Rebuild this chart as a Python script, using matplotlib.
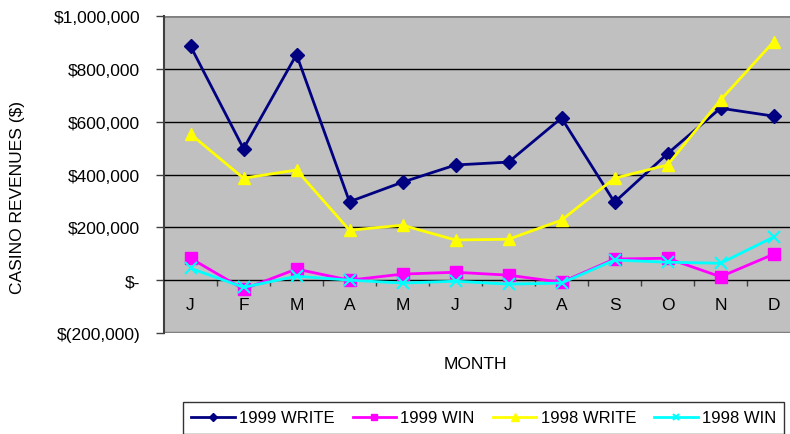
import matplotlib
matplotlib.use("Agg")
import matplotlib.pyplot as plt
from matplotlib.ticker import FixedLocator

plt.rcParams['font.family'] = ['Liberation Sans', 'DejaVu Sans']

months = ["J", "F", "M", "A", "M", "J", "J", "A", "S", "O", "N", "D"]
write_1999 = [886000, 498000, 854000, 297000, 371000, 436000, 447000, 614000, 295000, 479000, 651000, 621000]
win_1999 = [83000, -34000, 42000, 0, 23000, 30000, 19000, -8000, 80000, 83000, 13000, 98000]
write_1998 = [553000, 386000, 417000, 189000, 208000, 152000, 155000, 227000, 386000, 436000, 682000, 902000]
win_1998 = [45000, -27000, 15000, 0, -11000, -4000, -15000, -11000, 76000, 68000, 64000, 163000]
ytick_vals = [-200000, 0, 200000, 400000, 600000, 800000, 1000000]
ytick_labels = ["$(200,000)", "$-", "$200,000", "$400,000", "$600,000", "$800,000", "$1,000,000"]

W, H = 790, 435
fig = plt.figure(figsize=(W / 100, H / 100), dpi=100)
ax = fig.add_axes([164 / W, 1 - 334 / H, 636 / W, 317 / H])
ax.set_facecolor("#C0C0C0")

x = list(range(len(months)))
series = [
    (write_1999, "1999 WRITE", "#000080", "D", 7, "#000080"),
    (win_1999, "1999 WIN", "#FF00FF", "s", 8, "#FF00FF"),
    (write_1998, "1998 WRITE", "#FFFF00", "^", 9, "#FFFF00"),
    (win_1998, "1998 WIN", "#00FFFF", "x", 8, "#00FFFF"),
]
for vals, lab, col, mk, ms, mc in series:
    ax.plot(x, vals, color=col, lw=2, marker=mk, ms=ms, mfc=mc, mec=mc,
            mew=1.5 if mk == "x" else 1, label=lab, zorder=3, clip_on=False)

ax.set_xlim(-0.5, 11.5)
ax.set_ylim(-200000, 1000000)

for v in ytick_vals[2:-1]:
    ax.axhline(v, color="black", lw=1, zorder=1)
ax.axhline(1000000, color="#808080", lw=2, zorder=1)
ax.axhline(-200000, color="#808080", lw=2.5, zorder=1)

ax.set_yticks(ytick_vals)
ax.set_yticklabels(ytick_labels, fontsize=12.5)
ax.tick_params(axis="y", length=6, width=1, color="#404040", pad=11)

ax.spines["bottom"].set_position(("data", 0))
ax.spines["bottom"].set_color("black")
ax.spines["bottom"].set_linewidth(1)
ax.spines["top"].set_visible(False)
ax.spines["right"].set_visible(False)
ax.spines["left"].set_color("#404040")
ax.spines["left"].set_linewidth(1.5)

ax.set_xticks(x)
ax.set_xticklabels(months, fontsize=12.5)
ax.tick_params(axis="x", which="major", length=0, pad=12)
ax.xaxis.set_minor_locator(FixedLocator([i + 0.5 for i in range(11)]))
ax.tick_params(axis="x", which="minor", length=4.5, width=1, color="#404040", direction="out")

fig.text(18 / W, 1 - 198 / H, "CASINO REVENUES ($)", rotation=90, fontsize=12.5,
         ha="center", va="center")
fig.text(475 / W, 1 - 365 / H, "MONTH", fontsize=12.5, ha="center", va="center")

leg = fig.legend(loc="upper left", bbox_to_anchor=(183 / W, 1 - 403 / H), ncol=4,
                 fontsize=12, frameon=True, fancybox=False, handlelength=2.6,
                 handletextpad=0.25, columnspacing=1.1, borderpad=0.5,
                 borderaxespad=0, markerscale=0.6)
leg.get_frame().set_edgecolor("black")
leg.get_frame().set_linewidth(1)

fig.savefig("out.png", dpi=100)
